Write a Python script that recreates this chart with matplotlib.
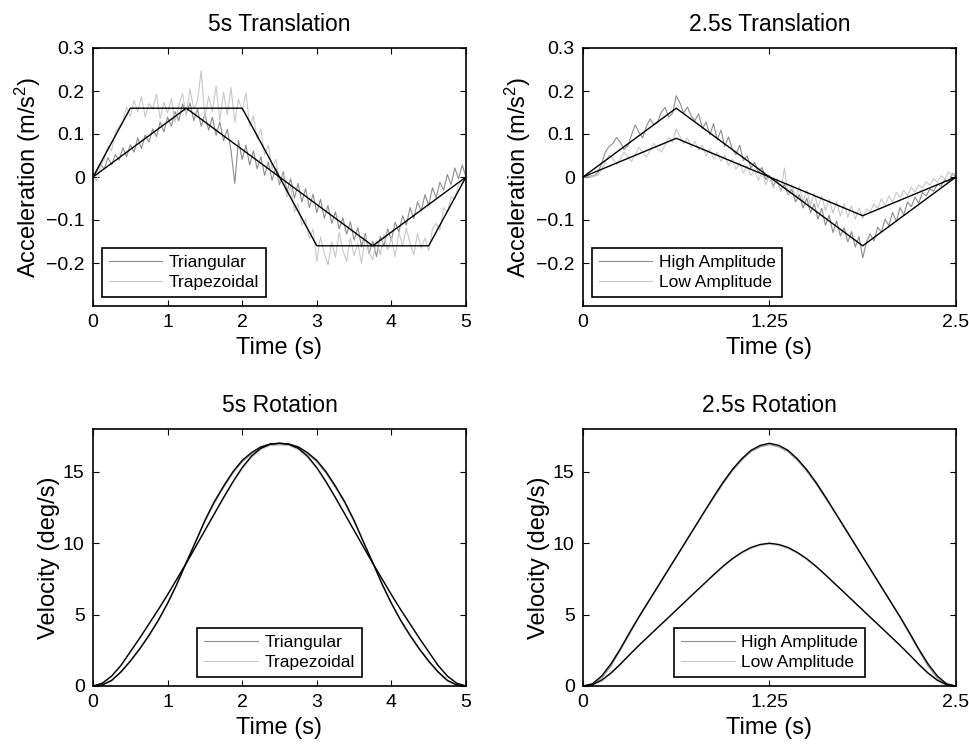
import numpy as np
import matplotlib
matplotlib.use("Agg")
import matplotlib.pyplot as plt

plt.rcParams['font.family'] = ['Liberation Sans', 'DejaVu Sans']
plt.rcParams['mathtext.fontset'] = 'custom'
plt.rcParams['mathtext.rm'] = 'Liberation Sans'
plt.rcParams['mathtext.it'] = 'Liberation Sans:italic'

# ---------------- 5s translation (acceleration, m/s^2) ----------------
t5 = np.linspace(0, 5, 101)
tri5_cmd_t = [0, 1.25, 3.75, 5]
tri5_cmd_a = [0, 0.16, -0.16, 0]
trap5_cmd_t = [0, 0.5, 2, 3, 4.5, 5]
trap5_cmd_a = [0, 0.16, 0.16, -0.16, -0.16, 0]

tri5_meas = [0.000, 0.012, 0.031, 0.018, 0.045, 0.028, 0.052, 0.039, 0.068, 0.047,
             0.075, 0.058, 0.091, 0.066, 0.098, 0.081, 0.112, 0.094, 0.128, 0.105,
             0.139, 0.118, 0.152, 0.131, 0.170, 0.148, 0.172, 0.131, 0.158, 0.118,
             0.147, 0.109, 0.139, 0.097, 0.128, 0.084, 0.111, 0.062, -0.015, 0.085,
             0.041, 0.074, 0.028, 0.061, 0.019, 0.047, 0.004, 0.035, -0.008, 0.021,
             -0.018, 0.012, -0.034, -0.004, -0.049, -0.015, -0.058, -0.027, -0.071, -0.040,
             -0.083, -0.052, -0.096, -0.066, -0.108, -0.081, -0.121, -0.095, -0.133, -0.104,
             -0.147, -0.118, -0.162, -0.131, -0.178, -0.149, -0.185, -0.138, -0.160, -0.121,
             -0.147, -0.105, -0.128, -0.090, -0.112, -0.071, -0.097, -0.058, -0.079, -0.041,
             -0.066, -0.025, -0.048, -0.012, -0.031, 0.006, -0.018, 0.021, -0.004, 0.028,
             0.000]
trap5_meas = [0.000, -0.008, 0.025, 0.041, 0.072, 0.061, 0.105, 0.118, 0.131, 0.162,
              0.141, 0.178, 0.152, 0.187, 0.139, 0.171, 0.158, 0.192, 0.136, 0.174,
              0.149, 0.183, 0.128, 0.167, 0.194, 0.142, 0.205, 0.158, 0.176, 0.247,
              0.139, 0.188, 0.152, 0.211, 0.131, 0.197, 0.145, 0.208, 0.127, 0.181,
              0.153, 0.196, 0.118, 0.142, 0.089, 0.112, 0.051, 0.074, 0.018, 0.041,
              -0.012, 0.006, -0.047, -0.021, -0.081, -0.062, -0.112, -0.098, -0.143, -0.121,
              -0.196, -0.139, -0.178, -0.204, -0.151, -0.187, -0.128, -0.171, -0.196, -0.142,
              -0.183, -0.155, -0.201, -0.137, -0.176, -0.192, -0.148, -0.181, -0.133, -0.169,
              -0.142, -0.185, -0.128, -0.161, -0.119, -0.154, -0.181, -0.131, -0.166, -0.142,
              -0.171, -0.121, -0.108, -0.124, -0.071, -0.082, -0.046, -0.051, -0.018, -0.012,
              0.002]

# ---------------- 2.5s translation ----------------
t25 = np.linspace(0, 2.5, 101)
hi25_cmd_t = [0, 0.625, 1.875, 2.5]
hi25_cmd_a = [0, 0.16, -0.16, 0]
lo25_cmd_t = [0, 0.625, 1.875, 2.5]
lo25_cmd_a = [0, 0.09, -0.09, 0]

hi25_meas = [0.000, 0.001, 0.002, 0.003, 0.010, 0.032, 0.058, 0.071, 0.078, 0.092,
             0.081, 0.064, 0.072, 0.098, 0.121, 0.104, 0.091, 0.118, 0.135, 0.122,
             0.128, 0.151, 0.162, 0.139, 0.148, 0.189, 0.172, 0.149, 0.163, 0.142,
             0.131, 0.147, 0.112, 0.128, 0.098, 0.124, 0.087, 0.109, 0.071, 0.093,
             0.066, 0.052, 0.074, 0.038, 0.049, 0.021, 0.034, 0.011, 0.022, -0.006,
             0.004, -0.019, -0.008, -0.031, -0.017, -0.042, -0.029, -0.058, -0.041, -0.072,
             -0.049, -0.083, -0.062, -0.098, -0.073, -0.112, -0.089, -0.129, -0.102, -0.137,
             -0.118, -0.151, -0.127, -0.163, -0.139, -0.188, -0.151, -0.132, -0.149, -0.117,
             -0.128, -0.098, -0.113, -0.082, -0.104, -0.071, -0.088, -0.058, -0.069, -0.047,
             -0.061, -0.036, -0.044, -0.028, -0.033, -0.017, -0.021, -0.006, -0.012, 0.008,
             0.001]
lo25_meas = [0.000, 0.000, -0.001, 0.002, 0.004, 0.018, 0.034, 0.051, 0.043, 0.029,
             0.041, 0.058, 0.047, 0.036, 0.052, 0.069, 0.058, 0.047, 0.061, 0.078,
             0.066, 0.058, 0.074, 0.092, 0.081, 0.112, 0.094, 0.078, 0.091, 0.069,
             0.083, 0.062, 0.074, 0.049, 0.066, 0.042, 0.058, 0.036, 0.051, 0.027,
             0.041, 0.018, 0.033, 0.009, 0.025, 0.004, 0.016, -0.008, 0.012, -0.018,
             0.003, -0.026, -0.004, -0.034, 0.021, -0.041, -0.018, -0.049, -0.022, -0.058,
             -0.031, -0.066, -0.038, -0.071, -0.044, -0.078, -0.052, -0.084, -0.058, -0.091,
             -0.062, -0.094, -0.067, -0.098, -0.072, -0.097, -0.074, -0.081, -0.062, -0.074,
             -0.051, -0.067, -0.044, -0.059, -0.036, -0.048, -0.031, -0.043, -0.024, -0.035,
             -0.018, -0.026, -0.011, -0.019, -0.004, -0.012, 0.003, -0.005, 0.012, 0.004,
             0.010]

# ---------------- 5s rotation (velocity, deg/s) ----------------
tr5 = np.linspace(0, 5, 41)
tri5_vel_cmd = [0, 0.08, 0.4, 1.0, 1.75, 2.6, 3.55, 4.6, 5.8, 7.15, 8.65, 10.1, 11.6, 12.9,
                14.0, 15.0, 15.8, 16.35, 16.75, 16.95, 17.0, 16.95, 16.75, 16.35, 15.8, 15.0,
                14.0, 12.9, 11.6, 10.1, 8.65, 7.15, 5.8, 4.6, 3.55, 2.6, 1.75, 1.0, 0.4, 0.08, 0]
trap5_vel_cmd = [0, 0.2, 0.7, 1.45, 2.4, 3.35, 4.35, 5.35, 6.4, 7.5, 8.6, 9.75, 10.9, 12.05,
                 13.2, 14.3, 15.3, 16.1, 16.65, 16.93, 17.0, 16.93, 16.65, 16.1, 15.3, 14.3,
                 13.2, 12.05, 10.9, 9.75, 8.6, 7.5, 6.4, 5.35, 4.35, 3.35, 2.4, 1.45, 0.7, 0.2, 0]
tri5_vel_meas = [0, 0.05, 0.35, 0.95, 1.7, 2.55, 3.5, 4.55, 5.75, 7.1, 8.6, 10.05, 11.5, 12.8,
                 13.9, 14.9, 15.7, 16.25, 16.65, 16.85, 16.9, 16.85, 16.65, 16.25, 15.7, 14.9,
                 13.9, 12.8, 11.5, 10.05, 8.6, 7.1, 5.75, 4.55, 3.5, 2.55, 1.7, 0.95, 0.35, 0.05, 0]
trap5_vel_meas = [0, 0.15, 0.65, 1.4, 2.35, 3.3, 4.3, 5.3, 6.35, 7.45, 8.55, 9.7, 10.85, 12.0,
                  13.1, 14.2, 15.2, 16.0, 16.55, 16.85, 16.9, 16.85, 16.55, 16.0, 15.2, 14.2,
                  13.1, 12.0, 10.85, 9.7, 8.55, 7.45, 6.35, 5.3, 4.3, 3.3, 2.35, 1.4, 0.65, 0.15, 0]

# ---------------- 2.5s rotation ----------------
tr25 = np.linspace(0, 2.5, 41)
hi25_vel_cmd = [0, 0.15, 0.7, 1.55, 2.6, 3.75, 4.85, 5.9, 6.95, 8.0, 9.05, 10.1, 11.15, 12.2,
                13.25, 14.25, 15.15, 15.9, 16.5, 16.85, 17.0, 16.85, 16.5, 15.9, 15.15, 14.25,
                13.25, 12.2, 11.15, 10.1, 9.05, 8.0, 6.95, 5.9, 4.85, 3.75, 2.6, 1.55, 0.7, 0.15, 0]
lo25_vel_cmd = [0, 0.09, 0.41, 0.91, 1.53, 2.2, 2.85, 3.47, 4.09, 4.7, 5.32, 5.94, 6.56, 7.17,
                7.79, 8.38, 8.91, 9.35, 9.7, 9.91, 10.0, 9.91, 9.7, 9.35, 8.91, 8.38, 7.79,
                7.17, 6.56, 5.94, 5.32, 4.7, 4.09, 3.47, 2.85, 2.2, 1.53, 0.91, 0.41, 0.09, 0]
hi25_vel_meas = [0, 0.08, 0.55, 1.4, 2.5, 3.65, 4.8, 5.85, 6.9, 7.95, 9.0, 10.05, 11.1, 12.15,
                 13.15, 14.15, 15.05, 15.8, 16.4, 16.75, 16.9, 16.75, 16.4, 15.8, 15.05, 14.15,
                 13.15, 12.15, 11.1, 10.05, 9.0, 7.95, 6.9, 5.85, 4.8, 3.65, 2.5, 1.4, 0.55, 0.08, 0]
lo25_vel_meas = [0, 0.04, 0.33, 0.84, 1.47, 2.15, 2.81, 3.43, 4.05, 4.66, 5.28, 5.9, 6.52, 7.13,
                 7.74, 8.32, 8.85, 9.28, 9.62, 9.84, 9.93, 9.84, 9.62, 9.28, 8.85, 8.32, 7.74,
                 7.13, 6.52, 5.9, 5.28, 4.66, 4.05, 3.43, 2.81, 2.15, 1.47, 0.84, 0.33, 0.04, 0]

dark_gray = '#8c8c8c'
light_gray = '#c8c8c8'

fig = plt.figure(figsize=(9.7, 7.46), dpi=100)
W, H = 970.0, 746.0
def box(x0, x1, ytop, ybot):
    return [x0 / W, 1 - ybot / H, (x1 - x0) / W, (ybot - ytop) / H]

ax1 = fig.add_axes(box(93, 466, 48, 306))
ax2 = fig.add_axes(box(583, 956, 48, 306))
ax3 = fig.add_axes(box(93, 466, 429, 686))
ax4 = fig.add_axes(box(583, 956, 429, 686))

def style(ax, title, ylabel):
    ax.set_title(title, fontsize=16.5, pad=12)
    ax.set_xlabel('Time (s)', fontsize=17, labelpad=4)
    ax.set_ylabel(ylabel, fontsize=17, labelpad=2)
    ax.tick_params(direction='in', top=True, right=True, length=4, width=0.8,
                   labelsize=14, pad=6)
    for s in ax.spines.values():
        s.set_linewidth(1.2)

def add_legend(ax, labels, loc):
    leg = ax.legend(labels, loc=loc, fontsize=12.5, frameon=True, fancybox=False,
                    edgecolor='black', framealpha=1, handlelength=3.1,
                    handletextpad=0.35, labelspacing=0.3, borderpad=0.4,
                    borderaxespad=0.5)
    leg.get_frame().set_linewidth(1.2)

# top left
ax1.plot(t5, tri5_meas, color=dark_gray, lw=0.8)
ax1.plot(t5, trap5_meas, color=light_gray, lw=0.8)
ax1.plot(tri5_cmd_t, tri5_cmd_a, color='black', lw=1.0)
ax1.plot(trap5_cmd_t, trap5_cmd_a, color='black', lw=1.0)
ax1.set_xlim(0, 5)
ax1.set_ylim(-0.3, 0.3)
ax1.set_yticks([-0.2, -0.1, 0, 0.1, 0.2, 0.3])
ax1.set_yticklabels(['\u22120.2', '\u22120.1', '0', '0.1', '0.2', '0.3'])
ax1.set_xticks([0, 1, 2, 3, 4, 5])
style(ax1, '5s Translation', 'Acceleration (m/s$^2$)')
add_legend(ax1, ['Triangular', 'Trapezoidal'], 'lower left')

# top right
ax2.plot(t25, hi25_meas, color=dark_gray, lw=0.8)
ax2.plot(t25, lo25_meas, color=light_gray, lw=0.8)
ax2.plot(hi25_cmd_t, hi25_cmd_a, color='black', lw=1.0)
ax2.plot(lo25_cmd_t, lo25_cmd_a, color='black', lw=1.0)
ax2.set_xlim(0, 2.5)
ax2.set_ylim(-0.3, 0.3)
ax2.set_yticks([-0.2, -0.1, 0, 0.1, 0.2, 0.3])
ax2.set_yticklabels(['\u22120.2', '\u22120.1', '0', '0.1', '0.2', '0.3'])
ax2.set_xticks([0, 1.25, 2.5])
ax2.set_xticklabels(['0', '1.25', '2.5'])
style(ax2, '2.5s Translation', 'Acceleration (m/s$^2$)')
add_legend(ax2, ['High Amplitude', 'Low Amplitude'], 'lower left')

# bottom left
ax3.plot(tr5, tri5_vel_meas, color=dark_gray, lw=0.8)
ax3.plot(tr5, trap5_vel_meas, color=light_gray, lw=0.8)
ax3.plot(tr5, tri5_vel_cmd, color='black', lw=1.0)
ax3.plot(tr5, trap5_vel_cmd, color='black', lw=1.0)
ax3.set_xlim(0, 5)
ax3.set_ylim(0, 18)
ax3.set_yticks([0, 5, 10, 15])
ax3.set_xticks([0, 1, 2, 3, 4, 5])
style(ax3, '5s Rotation', 'Velocity (deg/s)')
add_legend(ax3, ['Triangular', 'Trapezoidal'], 'lower center')

# bottom right
ax4.plot(tr25, hi25_vel_meas, color=dark_gray, lw=0.8)
ax4.plot(tr25, lo25_vel_meas, color=light_gray, lw=0.8)
ax4.plot(tr25, hi25_vel_cmd, color='black', lw=1.0)
ax4.plot(tr25, lo25_vel_cmd, color='black', lw=1.0)
ax4.set_xlim(0, 2.5)
ax4.set_ylim(0, 18)
ax4.set_yticks([0, 5, 10, 15])
ax4.set_xticks([0, 1.25, 2.5])
ax4.set_xticklabels(['0', '1.25', '2.5'])
style(ax4, '2.5s Rotation', 'Velocity (deg/s)')
add_legend(ax4, ['High Amplitude', 'Low Amplitude'], 'lower center')

fig.savefig('out.png', dpi=100)
